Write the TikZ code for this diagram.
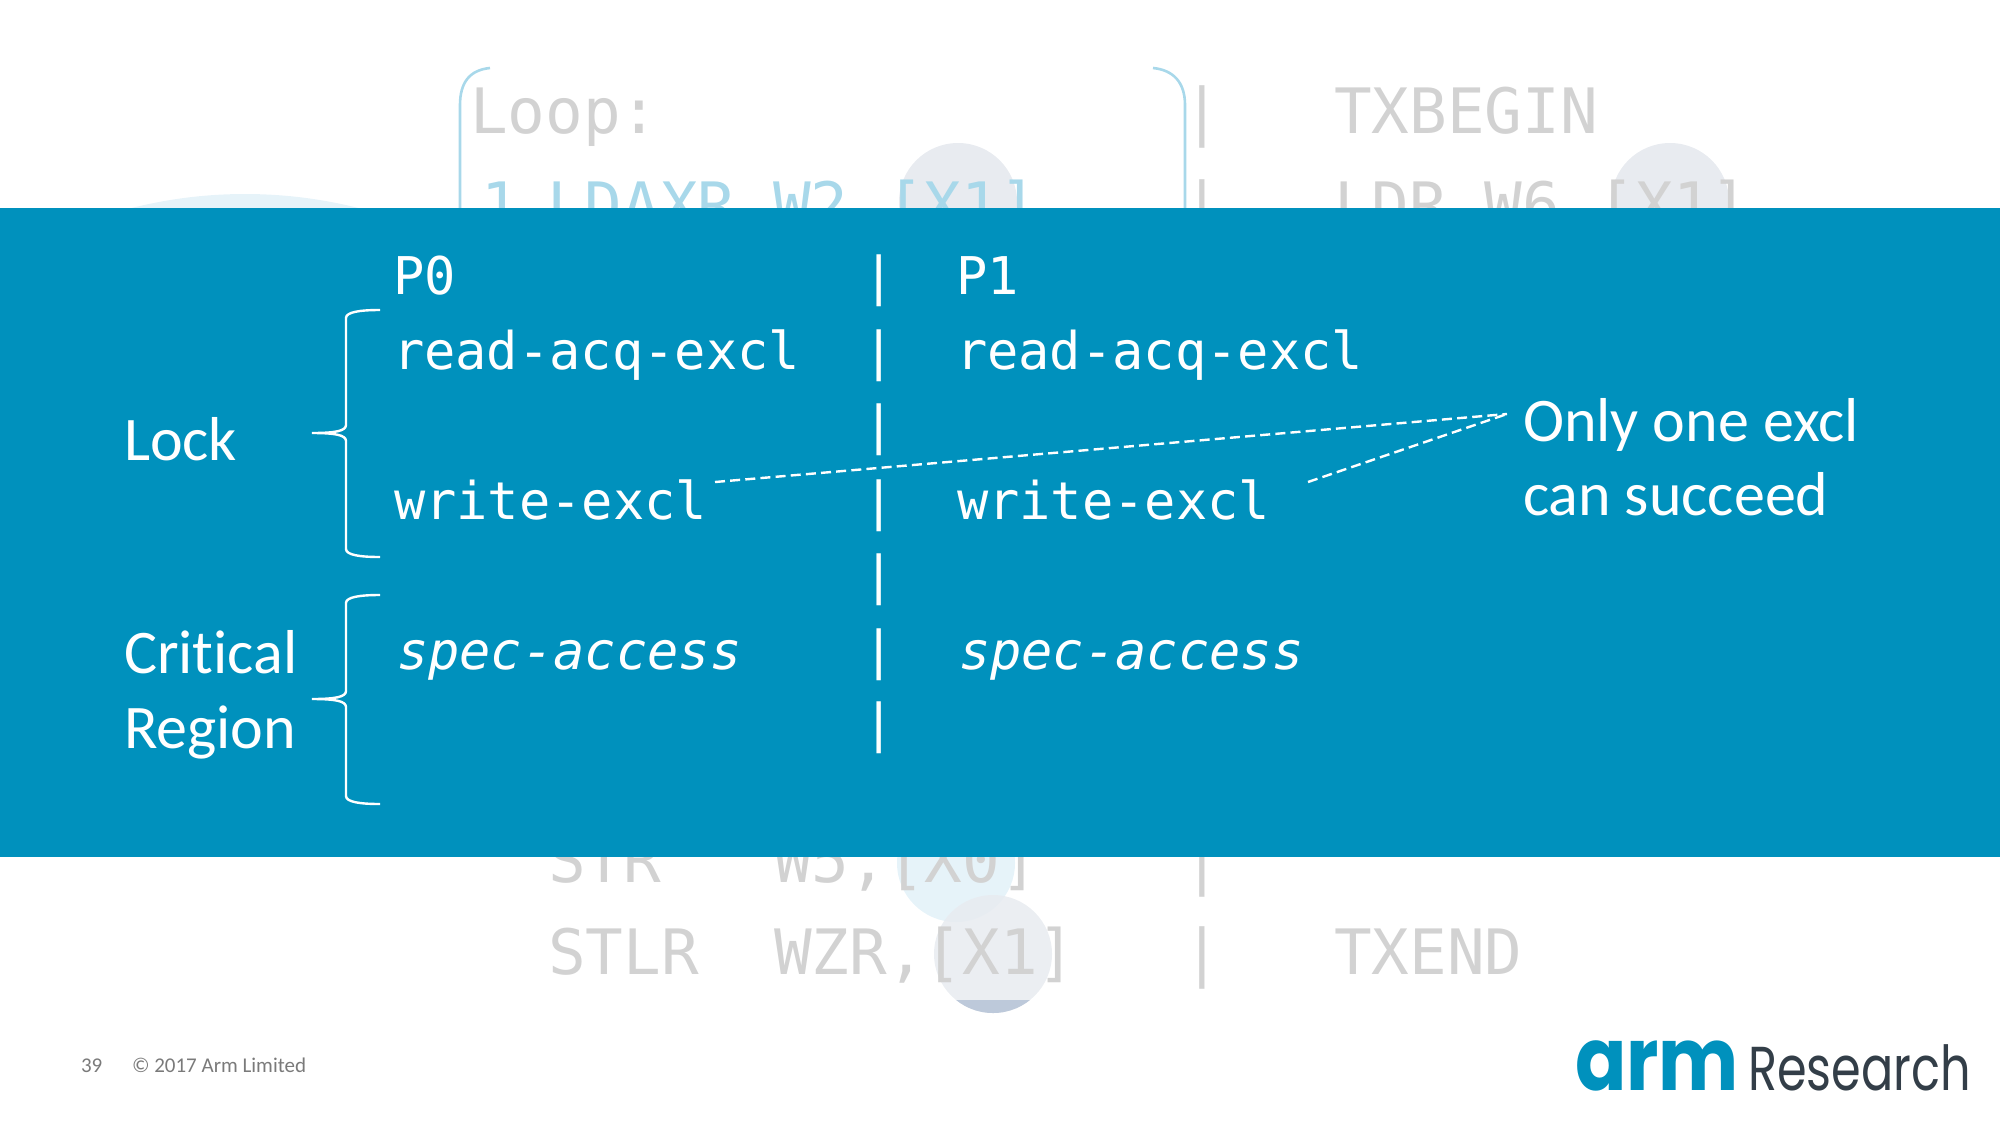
\documentclass[tikz,border=0pt]{standalone}
\usepackage{fontspec}
\usepackage{graphicx}
\setmainfont[Ligatures=NoCommon]{Carlito}
\newfontfamily\codefont{DejaVu Sans Mono}
\newfontfamily\logofont{Poppins}
\definecolor{band}{HTML}{0091BD}
\definecolor{ghost}{HTML}{D2D2D2}
\definecolor{ghostblue}{HTML}{A8D8EA}
\definecolor{disc}{HTML}{E8EBF0}
\definecolor{discblue}{HTML}{E6F3F9}
\definecolor{discdark}{HTML}{BDC9DA}
\definecolor{research}{HTML}{333E48}
\tikzset{
  every node/.style={inner sep=0pt,outer sep=0pt,anchor=base west},
  code/.style={font=\codefont\fontsize{26}{26}\selectfont,text=white},
  codeit/.style={font=\codefont\itshape\fontsize{26}{26}\selectfont,text=white},
  bgcode/.style={font=\codefont\fontsize{31.3}{31.3}\selectfont,text=ghost},
  bgblue/.style={font=\codefont\fontsize{31.3}{31.3}\selectfont,text=ghostblue},
  label/.style={font=\fontsize{31}{31}\selectfont,text=white},
  footer/.style={font=\fontsize{10.5}{10.5}\selectfont,text=black!52},
  brace/.style={draw=white,line width=1.2pt},
  topbrace/.style={draw=ghostblue,line width=1.3pt},
  dashline/.style={draw=white,line width=1.2pt,dash pattern=on 5pt off 2.6pt},
}
\begin{document}
\begin{tikzpicture}[x=0.5pt,y=-0.5pt]
\useasboundingbox (0,0) rectangle (2000,1125);
% discs behind the code
\begin{scope}
  \clip (100,150) rectangle (400,210);
  \fill[discblue] (245,657) circle[radius=463];
\end{scope}
\fill[disc] (958,202) circle[radius=59];
\fill[disc] (1670,202) circle[radius=59];
\fill[discblue] (956,863) circle[radius=59];
\fill[disc,fill opacity=0.85] (993,954) circle[radius=59];
\begin{scope}
  \clip (900,1000) rectangle (1100,1030);
  \fill[discdark] (993,954) circle[radius=59];
\end{scope}
% ghost code
\node[bgcode] (loop) at (470,133) {Loop:};
\node[bgblue] (one) at (481,227) {1};
\node[bgblue] (ldaxr) at (547,227) {LDAXR W2,[X1]};
\node[bgcode] (str) at (548,882) {STR\ \ \ W5,[X0]};
\node[bgcode] (stlr) at (548,974) {STLR\ \ WZR,[X1]};
\node[bgcode] (sa) at (1183,133) {|};
\node[bgcode] (sb) at (1183,227) {|};
\node[bgcode] (sc) at (1183,882) {|};
\node[bgcode] (sd) at (1183,974) {|};
\node[bgcode] (txbegin) at (1334,133) {TXBEGIN};
\node[bgcode] (ldr) at (1334,227) {LDR W6,[X1]};
\node[bgcode] (txend) at (1334,974) {TXEND};
% blue bracket over the code
\draw[topbrace] (490,68) .. controls (470,70) and (460,82) .. (460,105) -- (460,210);
\draw[topbrace] (1153,68) .. controls (1173,70) and (1185,82) .. (1185,105) -- (1185,210);
% band
\fill[band] (0,207.5) rectangle (2000,857);
% band text
\node[code] (p0) at (393,294) {P0};
\node[code] (r0) at (393,369) {read-acq-excl};
\node[code] (w0) at (394,519) {write-excl};
\node[codeit] (s0) at (397,669) {spec-access};
\node[code] (p1) at (956,294) {P1};
\node[code] (r1) at (956,369) {read-acq-excl};
\node[code] (w1) at (957,519) {write-excl};
\node[codeit] (s1) at (959,669) {spec-access};
\foreach \n/\y in {a/294,b/369,c/443,d/519,e/593,f/668,g/741}{
  \node[code] (bar\n) at (863,\y) {|};
}
\node[label] (lock) at (124,460) {Lock};
\node[label] (crit) at (124,673) {Critical};
\node[label] (regn) at (124,748) {Region};
\node[label] (only) at (1523,441) {Only one excl};
\node[label] (can) at (1523,515) {can succeed};
% braces
\draw[brace] (380,310) .. controls (360,310) and (346,312) .. (346,318) -- (346,425)
  .. controls (346,431) and (335,433) .. (312,433)
  .. controls (335,433) and (346,435) .. (346,441) -- (346,549)
  .. controls (346,555) and (360,557) .. (380,557);
\draw[brace] (380,595) .. controls (360,595) and (346,597) .. (346,603) -- (346,691)
  .. controls (346,697) and (335,699) .. (312,699)
  .. controls (335,699) and (346,701) .. (346,707) -- (346,796)
  .. controls (346,802) and (360,804) .. (380,804);
% dashed connectors
\coordinate (tip) at (1507,414);
\coordinate (from0) at (715,482);
\coordinate (from1) at (1308,482);
\draw[dashline] (from0) -- (tip);
\draw[dashline] (from1) -- (tip);
% footer
\node[footer] (pg) at (81,1072) {39};
\node[footer] (copy) at (132,1072) {© 2017 Arm Limited};
% logo
\node[font=\logofont\bfseries\fontsize{44}{44}\selectfont,text=band] (arm) at (1575,1090) {\scalebox{0.86}[1]{arm}};
\node[font=\logofont\fontsize{31}{31}\selectfont,text=research] (res) at (1748,1090) {\scalebox{0.77}[1]{Research}};
\end{tikzpicture}
\end{document}
